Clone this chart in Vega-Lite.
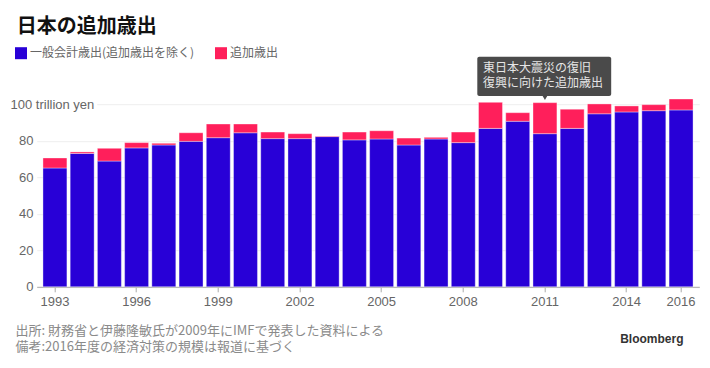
{
  "$schema": "https://vega.github.io/schema/vega-lite/v6.json",
  "width": 662.6,
  "height": 233.6,
  "autosize": {"type": "none"},
  "padding": {"left": 36.7, "top": 53.2, "right": 10.7, "bottom": 81.2},
  "background": "white",
  "title": {
    "text": "日本の追加歳出",
    "anchor": "start",
    "frame": "group",
    "dx": -20,
    "offset": 10,
    "font": "Noto Sans CJK JP",
    "fontSize": 20,
    "fontWeight": "bold",
    "color": "#111111"
  },
  "config": {
    "view": {"stroke": null},
    "font": "Noto Sans CJK JP"
  },
  "data": {
    "values": [
      {"year": "1993", "一般会計歳出(追加歳出を除く)": 65.1, "追加歳出": 5.5},
      {"year": "1994", "一般会計歳出(追加歳出を除く)": 73.1, "追加歳出": 0.8},
      {"year": "1995", "一般会計歳出(追加歳出を除く)": 68.9, "追加歳出": 7.0},
      {"year": "1996", "一般会計歳出(追加歳出を除く)": 76.1, "追加歳出": 2.9},
      {"year": "1997", "一般会計歳出(追加歳出を除く)": 77.7, "追加歳出": 0.9},
      {"year": "1998", "一般会計歳出(追加歳出を除く)": 79.7, "追加歳出": 4.7},
      {"year": "1999", "一般会計歳出(追加歳出を除く)": 81.7, "追加歳出": 7.5},
      {"year": "2000", "一般会計歳出(追加歳出を除く)": 84.4, "追加歳出": 4.8},
      {"year": "2001", "一般会計歳出(追加歳出を除く)": 81.2, "追加歳出": 3.6},
      {"year": "2002", "一般会計歳出(追加歳出を除く)": 81.2, "追加歳出": 2.7},
      {"year": "2003", "一般会計歳出(追加歳出を除く)": 82.3, "追加歳出": 0.3},
      {"year": "2004", "一般会計歳出(追加歳出を除く)": 80.5, "追加歳出": 4.3},
      {"year": "2005", "一般会計歳出(追加歳出を除く)": 81.0, "追加歳出": 4.5},
      {"year": "2006", "一般会計歳出(追加歳出を除く)": 77.7, "追加歳出": 3.8},
      {"year": "2007", "一般会計歳出(追加歳出を除く)": 81.0, "追加歳出": 0.9},
      {"year": "2008", "一般会計歳出(追加歳出を除く)": 79.0, "追加歳出": 5.8},
      {"year": "2009", "一般会計歳出(追加歳出を除く)": 86.8, "追加歳出": 14.3},
      {"year": "2010", "一般会計歳出(追加歳出を除く)": 90.7, "追加歳出": 4.7},
      {"year": "2011", "一般会計歳出(追加歳出を除く)": 83.9, "追加歳出": 17.0},
      {"year": "2012", "一般会計歳出(追加歳出を除く)": 86.8, "追加歳出": 10.5},
      {"year": "2013", "一般会計歳出(追加歳出を除く)": 94.8, "追加歳出": 5.4},
      {"year": "2014", "一般会計歳出(追加歳出を除く)": 95.8, "追加歳出": 3.3},
      {"year": "2015", "一般会計歳出(追加歳出を除く)": 96.5, "追加歳出": 3.3},
      {"year": "2016", "一般会計歳出(追加歳出を除く)": 96.9, "追加歳出": 6.0}
    ]
  },
  "encoding": {
    "x": {
      "field": "year",
      "type": "ordinal",
      "scale": {"paddingInner": 0.12, "paddingOuter": 0.23},
      "axis": {
        "values": ["1993", "1996", "1999", "2002", "2005", "2008", "2011", "2014", "2016"],
        "labelAngle": 0,
        "labelFont": "Liberation Sans",
        "labelFontSize": 13,
        "labelColor": "#666666",
        "labelPadding": 4,
        "domainColor": "#aaaaaa",
        "tickColor": "#aaaaaa",
        "tickSize": 5,
        "grid": false,
        "title": ["出所: 財務省と伊藤隆敏氏が2009年にIMFで発表した資料による", "備考:2016年度の経済対策の規模は報道に基づく"],
        "titleFont": "Noto Sans CJK JP",
        "titleFontSize": 13,
        "titleFontWeight": "normal",
        "titleColor": "#8a8a8a",
        "titleAnchor": "start",
        "titleAlign": "left",
        "titleBaseline": "middle",
        "titleX": -21.7,
        "titleY": 44,
        "titleLineHeight": 16
      }
    }
  },
  "layer": [
    {
      "transform": [
        {"fold": ["一般会計歳出(追加歳出を除く)", "追加歳出"], "as": ["kind", "value"]}
      ],
      "mark": {"type": "bar", "stroke": "white", "strokeWidth": 0.6, "strokeOpacity": 0.6},
      "encoding": {
        "y": {
          "field": "value",
          "type": "quantitative",
          "stack": "zero",
          "scale": {"domain": [0, 128], "nice": false},
          "axis": {
            "values": [0, 20, 40, 60, 80, 100],
            "labelExpr": "datum.value == 100 ? '100 trillion yen' : datum.label",
            "labelFont": "Liberation Sans",
            "labelFontSize": 13,
            "labelColor": "#666666",
            "labelAlign": {"condition": {"test": "datum.value == 100", "value": "left"}, "value": "right"},
            "labelPadding": {"condition": {"test": "datum.value == 100", "value": 26.7}, "value": 3.7},
            "labelBaseline": "middle",
            "domain": false,
            "ticks": false,
            "grid": true,
            "gridColor": "#eeeeee",
            "gridDash": {"condition": {"test": "datum.value == 100", "value": [0, 60, 2000, 0]}, "value": []},
            "title": "Bloomberg",
            "titleAngle": 0,
            "titleAlign": "right",
            "titleBaseline": "alphabetic",
            "titleX": 646.3,
            "titleY": 289.5,
            "titleFont": "Liberation Sans",
            "titleFontSize": 12,
            "titleFontWeight": "bold",
            "titleColor": "#333333"
          }
        },
        "order": {"field": "kind", "sort": "ascending"},
        "color": {
          "field": "kind",
          "type": "nominal",
          "scale": {"domain": ["一般会計歳出(追加歳出を除く)", "追加歳出"], "range": ["#2800d7", "#ff1f5b"]},
          "legend": {
            "title": null,
            "orient": "none",
            "legendX": -21.7,
            "legendY": -6,
            "direction": "horizontal",
            "symbolType": "square",
            "symbolSize": 144,
            "symbolStrokeWidth": 0,
            "labelFont": "Noto Sans CJK JP",
            "labelFontSize": 12,
            "labelColor": "#666666",
            "labelOffset": 3,
            "labelLimit": 400,
            "columnPadding": 20,
            "padding": 0
          }
        }
      }
    },
    {
      "data": {"values": [{"note": "2011"}]},
      "mark": {"type": "rect", "color": "#4a4a4a", "cornerRadius": 2, "xOffset": -13.2, "x2Offset": 11.8},
      "encoding": {
        "x": {"datum": "2009"},
        "x2": {"datum": "2013"},
        "y": {"datum": 126.1},
        "y2": {"datum": 104.5}
      }
    },
    {
      "data": {"values": [{"note": "2011"}]},
      "mark": {"type": "point", "shape": "triangle-down", "filled": true, "color": "#4a4a4a", "size": 30, "opacity": 1},
      "encoding": {
        "x": {"datum": "2011"},
        "y": {"datum": 103.6}
      }
    },
    {
      "data": {"values": [{"note": "2011"}]},
      "mark": {"type": "text", "align": "left", "baseline": "middle", "dx": -7.5, "color": "#e6e6e6", "font": "Noto Sans CJK JP", "fontSize": 12, "lineHeight": 15},
      "encoding": {
        "x": {"datum": "2009"},
        "y": {"datum": 119.9},
        "text": {"value": ["東日本大震災の復旧", "復興に向けた追加歳出"]}
      }
    }
  ]
}
